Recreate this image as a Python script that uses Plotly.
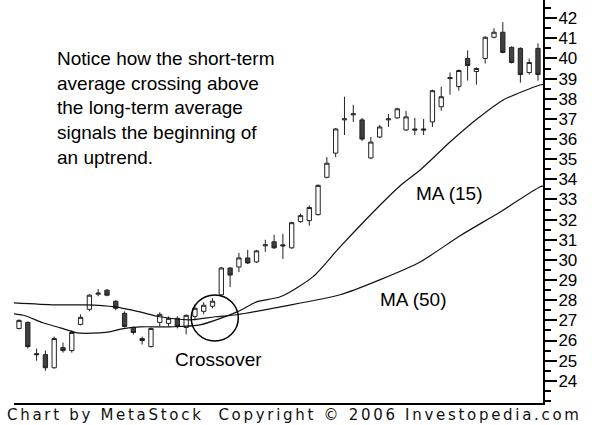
import plotly.graph_objects as go

# ---- data ----
day = list(range(60))
open_ = [26.6, 26.9, 25.35, 25.3, 24.65, 25.65, 25.5, 26.8, 27.55, 28.3,
         28.5, 27.95, 27.35, 26.65, 26.1, 25.7, 26.9, 26.85, 27.1, 26.65,
         27.2, 27.45, 27.7, 28.27, 29.6, 29.65, 30.1, 29.9, 30.7, 30.9,
         30.75, 30.6, 31.9, 31.95, 32.25, 34.1, 35.3, 36.95, 37.2, 36.95,
         35.06, 36.1, 36.95, 37.05, 36.45, 36.5, 36.5, 36.85, 37.6, 39.0,
         38.6, 40.0, 39.35, 40.0, 41.05, 41.3, 40.55, 40.5, 39.3, 40.5]
high = [27.05, 26.95, 25.6, 25.5, 26.2, 25.9, 26.5, 27.3, 28.3, 28.55,
        28.55, 28.0, 27.45, 26.7, 26.2, 26.65, 27.4, 27.2, 27.2, 27.3,
        27.8, 27.9, 28.1, 29.65, 29.65, 30.35, 30.5, 30.5, 31.0, 31.25,
        31.3, 31.9, 32.3, 32.7, 33.75, 35.1, 36.55, 38.1, 37.7, 37.05,
        36.1, 36.7, 37.25, 37.55, 37.4, 37.05, 37.0, 38.45, 38.6, 39.3,
        39.45, 40.4, 39.55, 41.1, 41.5, 41.8, 40.6, 40.55, 40.0, 40.75]
low = [26.55, 25.6, 25.0, 24.5, 24.6, 25.4, 25.4, 26.75, 27.45, 28.2,
       28.2, 27.5, 26.65, 26.3, 25.8, 25.65, 26.7, 26.7, 26.6, 26.3,
       27.0, 27.3, 27.6, 28.2, 28.65, 29.4, 29.8, 29.85, 30.4, 30.55,
       30.05, 30.55, 31.85, 31.7, 32.2, 34.05, 35.1, 36.2, 36.85, 35.9,
       35.0, 36.05, 36.6, 37.0, 36.4, 36.2, 36.2, 36.6, 37.4, 38.2,
       38.4, 38.9, 38.7, 39.75, 41.0, 40.25, 39.75, 38.8, 39.2, 38.9]
close = [27.0, 25.7, 25.3, 24.65, 26.1, 25.5, 26.4, 27.15, 28.25, 28.35,
         28.25, 27.6, 26.7, 26.4, 26.0, 26.6, 27.3, 27.1, 26.7, 27.25,
         27.6, 27.75, 27.95, 29.6, 29.25, 30.1, 29.85, 30.45, 30.75, 30.6,
         30.7, 31.85, 32.2, 32.6, 33.7, 34.8, 36.5, 37.0, 37.25, 36.0,
         35.85, 36.6, 37.0, 37.5, 37.1, 36.45, 36.45, 38.4, 38.1, 39.05,
         39.4, 39.65, 39.5, 41.05, 41.3, 40.3, 39.8, 39.2, 39.8, 39.2]

ma15_x = [-0.6, 0.7, 2.7, 4.7, 6.6, 9.2, 10.3, 11.7, 13.75, 17.2, 20.6,
          24.8, 27.0, 29.7, 33.4, 36.5, 40.5, 43.3, 45.6, 49.0, 52.2, 55.0,
          59.2, 59.6]
ma15_y = [27.32, 27.23, 26.88, 26.63, 26.38, 26.38, 26.43, 26.58, 26.68,
          26.68, 26.78, 27.42, 27.92, 28.17, 29.16, 30.65, 32.48, 33.67,
          34.46, 35.85, 37.04, 37.93, 38.68, 38.72]

ma50_x = [-0.6, 4.1, 7.5, 10.9, 13.75, 16.0, 19.4, 22.3, 24.8, 29.7, 36.5,
          41.0, 45.6, 50.1, 54.7, 59.2, 59.6]
ma50_y = [27.87, 27.77, 27.77, 27.67, 27.42, 27.18, 27.03, 27.18, 27.28,
          27.67, 28.27, 29.01, 29.9, 31.19, 32.38, 33.62, 33.66]

y_ticks = list(range(24, 43))

fig = go.Figure()
fig.add_trace(go.Candlestick(
    x=day, open=open_, high=high, low=low, close=close,
    increasing=dict(fillcolor="white", line=dict(color="#222222", width=1)),
    decreasing=dict(fillcolor="#404040", line=dict(color="#222222", width=1)),
    whiskerwidth=0, showlegend=False, hoverinfo="skip",
))
for xs, ys in ((ma15_x, ma15_y), (ma50_x, ma50_y)):
    fig.add_trace(go.Scatter(x=xs, y=ys, mode="lines",
                             line=dict(color="#111111", width=1.2,
                                       shape="spline", smoothing=0.7),
                             showlegend=False, hoverinfo="skip"))

fig.update_layout(
    width=592, height=425,
    margin=dict(l=14, r=49, t=0, b=22, autoexpand=False),
    paper_bgcolor="white", plot_bgcolor="white",
    showlegend=False,
    xaxis=dict(range=[-0.57, 59.57], showgrid=False, zeroline=False,
               showticklabels=False, ticks="", showline=True,
               linecolor="black", linewidth=2, rangeslider=dict(visible=False),
               fixedrange=True),
    yaxis=dict(range=[22.9, 42.9], side="right", showgrid=False,
               zeroline=False, tickvals=y_ticks, ticks="outside", ticklen=12,
               tickwidth=2, tickcolor="black", showline=True,
               linecolor="black", linewidth=2, automargin=False,
               ticklabelstandoff=-2,
               tickfont=dict(family="Liberation Sans", size=17, color="black"),
               minor=dict(dtick=0.5, tick0=0, ticks="outside", ticklen=6,
                          tickwidth=2, tickcolor="black"),
               fixedrange=True),
    font=dict(family="Liberation Sans", color="black"),
)

fig.add_shape(type="circle", xref="paper", yref="paper",
              x0=0.335, x1=0.424, y0=0.154, y1=0.268,
              line=dict(color="black", width=1.5))

ann_font = dict(family="Liberation Sans", size=19, color="black")
fig.add_annotation(xref="paper", yref="paper", x=0.0775, y=0.886,
                   xanchor="left", yanchor="top", align="left",
                   showarrow=False, font=ann_font,
                   text="Notice how the short-term<br>average crossing above<br>"
                        "the long-term average<br>signals the beginning of<br>an uptrend.")
fig.add_annotation(xref="paper", yref="paper", x=0.824, y=0.521,
                   xanchor="center", yanchor="middle",
                   showarrow=False, font=ann_font, text="MA (15)")
fig.add_annotation(xref="paper", yref="paper", x=0.756, y=0.256,
                   xanchor="center", yanchor="middle",
                   showarrow=False, font=ann_font, text="MA (50)")
fig.add_annotation(xref="paper", yref="paper", x=0.386, y=0.107,
                   xanchor="center", yanchor="middle",
                   showarrow=False, font=ann_font, text="Crossover")
fig.add_annotation(xref="paper", yref="paper", x=-0.017, y=-0.03,
                   xanchor="left", yanchor="middle", showarrow=False,
                   font=dict(family="DejaVu Sans", size=15, color="#111111"),
                   text="<span style='letter-spacing:2.7px'>Chart by MetaStock"
                        "  Copyright \u00a9 2006 Investopedia.com</span>")

fig.write_html("out.html", config={"displayModeBar": False},
               post_script="document.body.style.margin='0';")
